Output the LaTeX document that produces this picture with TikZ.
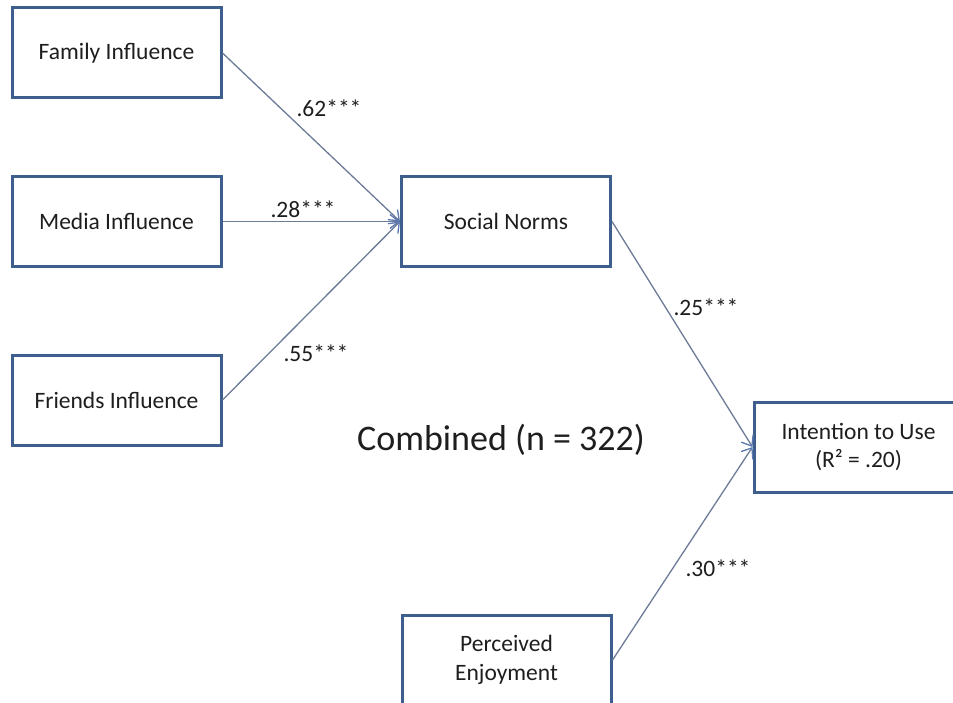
\documentclass[tikz,border=0pt]{standalone}
\usepackage{fontspec}
\setmainfont{Carlito}
\usetikzlibrary{arrows.meta}
\definecolor{boxblue}{HTML}{3E5F8E}
\definecolor{linegray}{HTML}{6E7B98}
\definecolor{tipblue}{HTML}{5B78B0}
\definecolor{txt}{HTML}{1E1E1E}
\tikzset{
  varbox/.style={draw=boxblue, line width=3pt, fill=white, minimum width=209pt, minimum height=90pt, inner sep=0pt, align=center, text=txt, font=\fontsize{23.5}{28.5}\selectfont},
  coef/.style={text=txt, inner sep=0pt, font=\fontsize{23.5}{28}\selectfont},
  path/.style={draw=linegray, line width=1.3pt, -{Straight Barb[length=9pt,width=14pt,line width=1.3pt,color=tipblue]}}
}
\begin{document}
\begin{tikzpicture}[x=1pt,y=-1pt]
\useasboundingbox (0,0) rectangle (953,703);
\clip (0,0) rectangle (953,703);
\fill[white] (0,0) rectangle (953,703);
\node[varbox] (fam) at (116.5,53) {Family Influence};
\node[varbox] (med) at (116.5,221.5) {Media Influence};
\node[varbox] (fri) at (116.5,400) {Friends Influence};
\node[varbox] (soc) at (506,221.5) {Social Norms};
\node[varbox] (int) at (858.5,447) {Intention to Use\\(R² = .20)};
\node[varbox] (enj) at (506.5,660) {Perceived\\Enjoyment};
\draw[path] (fam.east) -- (soc.west);
\draw[path] (med.east) -- (soc.west);
\draw[path] (fri.east) -- (soc.west);
\draw[path] (soc.east) -- (int.west);
\draw[path] (enj.east) -- (int.west);
\node[coef] (l62) at (329,108) {.62***};
\node[coef] (l28) at (303,209) {.28***};
\node[coef] (l55) at (316,353) {.55***};
\node[coef] (l25) at (706,307) {.25***};
\node[coef] (l30) at (718,568) {.30***};
\node[text=txt, inner sep=0pt, font=\fontsize{36}{40}\selectfont] (title) at (501,440) {Combined (n = 322)};
\end{tikzpicture}
\end{document}
